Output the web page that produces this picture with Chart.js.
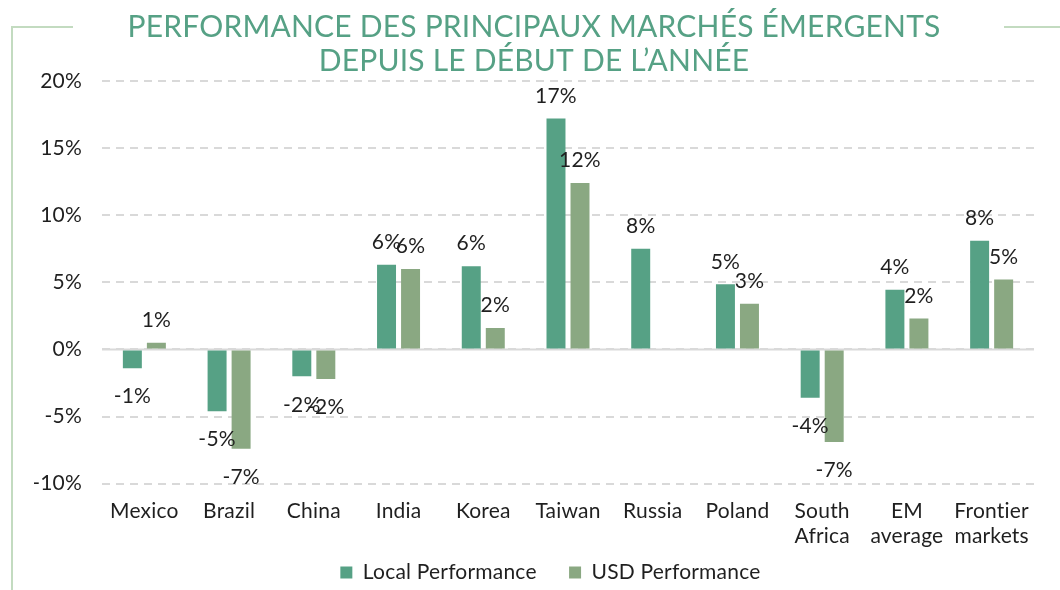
<!DOCTYPE html>
<html>
<head>
<meta charset="utf-8">
<script src="https://cdn.jsdelivr.net/npm/chart.js@4"></script>
<style>
  html, body { margin: 0; padding: 0; background: #ffffff; }
  #wrap { width: 1060px; height: 590px; position: relative; }
</style>
</head>
<body>
<div id="wrap"><canvas id="c" width="1060" height="590"></canvas></div>
<script>
const categories = ['Mexico', 'Brazil', 'China', 'India', 'Korea', 'Taiwan', 'Russia', 'Poland', ['South', 'Africa'], ['EM', 'average'], ['Frontier', 'markets']];
const localPerformance = [-1.4, -4.6, -2.0, 6.3, 6.2, 17.2, 7.5, 4.85, -3.6, 4.45, 8.1];
const usdPerformance = [0.5, -7.4, -2.2, 6.0, 1.6, 12.4, null, 3.4, -6.9, 2.3, 5.2];
const seriesNames = ['Local Performance', 'USD Performance'];
const titleLines = ['PERFORMANCE DES PRINCIPAUX MARCHÉS ÉMERGENTS', 'DEPUIS LE DÉBUT DE L\u2019ANNÉE'];
const yMin = -10, yMax = 20, yStep = 5;

const FONT = 'Lato, "Open Sans", sans-serif';
const FS = 21;
const TEXT = '#1f1f1f';
const GREEN = '#56A185';
const SAGE = '#8AA882';

const spacingPlugin = {
  id: 'spacing',
  beforeInit(chart) { if ('letterSpacing' in chart.ctx) chart.ctx.letterSpacing = '0.2px'; },
  beforeDraw(chart) { if ('letterSpacing' in chart.ctx) chart.ctx.letterSpacing = '0.2px'; }
};

const framePlugin = {
  id: 'frame',
  beforeDraw(chart) {
    const ctx = chart.ctx;
    ctx.save();
    ctx.strokeStyle = '#C3DBC0';
    ctx.lineWidth = 2;
    ctx.beginPath();
    ctx.moveTo(73, 27); ctx.lineTo(12, 27); ctx.lineTo(12, 590);
    ctx.moveTo(1004, 27); ctx.lineTo(1060, 27);
    ctx.stroke();
    ctx.restore();
  }
};

const zeroLinePlugin = {
  id: 'zeroLine',
  beforeDatasetsDraw(chart) {
    const y = chart.scales.y.getPixelForValue(0);
    const a = chart.chartArea;
    const ctx = chart.ctx;
    ctx.save();
    ctx.strokeStyle = '#D9D9D9';
    ctx.lineWidth = 2;
    ctx.beginPath();
    ctx.moveTo(a.left, y); ctx.lineTo(a.right, y);
    ctx.stroke();
    ctx.restore();
  }
};

const valueLabelPlugin = {
  id: 'valueLabels',
  afterDatasetsDraw(chart) {
    const ctx = chart.ctx;
    ctx.save();
    ctx.font = FS + 'px ' + FONT;
    ctx.fillStyle = TEXT;
    ctx.textAlign = 'center';
    ctx.textBaseline = 'middle';
    chart.data.datasets.forEach((ds, di) => {
      const meta = chart.getDatasetMeta(di);
      meta.data.forEach((el, i) => {
        const v = ds.data[i];
        if (v === null || v === undefined) return;
        const r = Math.sign(v) * Math.round(Math.abs(v));
        const y = v >= 0 ? el.y - 22.5 : el.y + 28.5;
        ctx.fillText(r + '%', el.x, y);
      });
    });
    ctx.restore();
  }
};

new Chart(document.getElementById('c'), {
  type: 'bar',
  data: {
    labels: categories,
    datasets: [
      { label: seriesNames[0], data: localPerformance, backgroundColor: GREEN, borderWidth: 0 },
      { label: seriesNames[1], data: usdPerformance, backgroundColor: SAGE, borderWidth: 0 }
    ]
  },
  options: {
    responsive: false,
    animation: false,
    devicePixelRatio: 1,
    layout: { padding: { left: 34, right: 26, top: 0, bottom: -3 } },
    datasets: { bar: { categoryPercentage: 0.567, barPercentage: 0.79 } },
    scales: {
      x: {
        grid: { display: false, drawTicks: false },
        border: { display: false },
        ticks: { color: TEXT, font: { family: FONT, size: FS, lineHeight: 1.2 }, padding: 15, maxRotation: 0, autoSkip: false },
        afterFit(scale) { scale.height = scale.height - 13; }
      },
      y: {
        min: yMin, max: yMax,
        grid: { color: '#D9D9D9', lineWidth: 2, drawTicks: false },
        border: { display: false, dash: [8, 6] },
        ticks: { stepSize: yStep, color: TEXT, padding: 20, font: { family: FONT, size: FS }, callback: v => v + '%' },
        afterFit(scale) { scale.width = 68; }
      }
    },
    plugins: {
      title: {
        display: true,
        text: titleLines,
        color: '#56A185',
        font: { family: FONT, size: 30, weight: 'normal', lineHeight: 1.15 },
        padding: { top: 10, bottom: 2 }
      },
      legend: {
        position: 'bottom',
        fullSize: false,
        labels: {
          color: TEXT, boxWidth: 12, boxHeight: 12, padding: 11, font: { family: FONT, size: FS },
          generateLabels(chart) {
            const items = Chart.defaults.plugins.legend.labels.generateLabels(chart);
            items.forEach((it, i) => {
              it.lineWidth = 0;
              it.text = it.text + (i < items.length - 1 ? '\u2002\u2002' : '\u2002\u2002\u2002\u2002');
            });
            return items;
          }
        }
      },
      tooltip: { enabled: false }
    }
  },
  plugins: [spacingPlugin, framePlugin, zeroLinePlugin, valueLabelPlugin]
});
</script>
</body>
</html>
